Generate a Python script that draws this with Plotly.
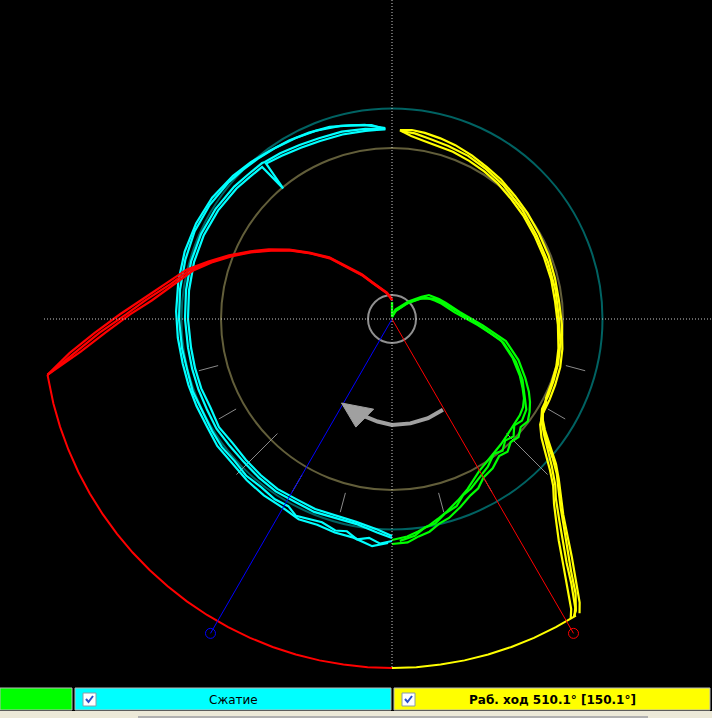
import numpy as np
import plotly.graph_objects as go

W, H = 712, 718
CX, CY = 392, 319          # pixel position of the diagram centre
R_MAX = 349                # clipping radius (outer limit of the diagram)

# ---------------- data (crank angle deg, clockwise from top; radius) ----------------
# Intake (green)
GREEN_A_THETA = [0, 0.5, 20, 43, 53, 57, 67, 73, 84, 94, 101, 108, 114, 118, 121, 124, 127, 130, 133, 136, 139, 142, 146, 150, 153, 156, 160, 164, 167, 170, 173, 176, 180]
GREEN_A_R = [17, 2, 8, 21, 33, 40, 47, 52, 63, 86, 111, 127, 140, 148, 154, 158, 160, 161, 162, 164, 166, 168, 171, 175, 180, 186, 193, 200, 205, 210, 214, 218, 221]
GREEN_B_THETA = [0, 0.5, 20, 43, 53, 57, 67, 73, 84, 94, 101, 108, 114, 118, 121, 124, 127, 130, 133, 136, 139, 142, 146, 150, 153, 156, 160, 164, 167, 170, 173, 176, 180]
GREEN_B_R = [17, 3, 10, 24, 37, 44, 51, 56, 68, 91, 116, 133, 146, 155, 161, 166, 170, 168, 173, 171, 176, 174, 180, 183, 190, 193, 200, 207, 210, 216, 219, 224, 225]
GREEN_C_THETA = [0.5, 25, 45, 55, 65, 75, 85, 95, 102, 109, 115, 120, 124, 128, 131, 134, 137, 140, 143, 147, 151, 155, 158, 161, 165, 168, 171, 174, 178]
GREEN_C_R = [2, 9, 23, 36, 48, 56, 68, 90, 114, 131, 144, 153, 162, 165, 162, 169, 166, 172, 169, 176, 181, 187, 190, 198, 202, 209, 211, 218, 222]

# Compression (cyan)
CYAN_A_THETA = [180, 184, 190, 196, 202, 208, 214, 220, 226, 232, 238, 244, 250, 256, 262, 270, 278, 286, 294, 302, 310, 315, 319.5, 320.2, 321, 326, 332, 338, 345, 352, 358]
CYAN_A_R = [217, 211, 206, 204, 205, 204, 205, 204, 203, 202, 204, 202, 203, 203, 203, 204, 205, 206, 206, 205, 203, 201, 200, 170, 200, 197, 194, 192, 191, 190, 190]
CYAN_D_R = [219, 214, 208, 207, 208, 207, 208, 207, 206, 206, 207, 206, 206, 206, 206, 207, 208, 209, 209, 208, 206, 204, 203, 203, 202, 200, 197, 195, 194, 192, 190]
CYAN_B_THETA = [180, 183, 186, 189, 192, 195, 199, 203, 206, 209, 213, 218, 223, 228, 233, 238, 244, 250, 256, 262, 270, 278, 286, 294, 302, 310, 315, 320, 326, 332, 338, 345, 352, 358]
CYAN_B_R = [222, 225, 220, 223, 217, 219, 215, 217, 219, 214, 215, 213, 214, 212, 213, 212, 211, 212, 211, 212, 213, 214, 215, 216, 215, 213, 211, 209, 207, 205, 203, 200, 196, 191]
CYAN_C_THETA = [181, 185, 190, 195, 200, 205, 210, 216, 222, 228, 234, 240, 246, 252, 258, 265, 272, 280, 288, 296, 304, 312, 318, 324, 330, 336, 342, 348, 354, 357]
CYAN_C_R = [224, 228, 222, 221, 219, 221, 218, 218, 217, 215, 216, 214, 214, 214, 214, 215, 216, 217, 218, 218, 217, 214, 211, 208, 206, 204, 202, 198, 195, 191]

# Power stroke (yellow)
YELLOW_A_THETA = [362.4, 366, 370, 375, 380, 386, 392, 398, 405, 412, 420, 428, 436, 444, 452, 460, 466, 472, 477, 480, 483, 486, 489, 491.5, 493.8, 496.5, 498.8, 500.8, 502.9, 505, 506.5, 507.5]
YELLOW_A_R = [189, 184, 181, 179, 178, 176, 174, 172, 169, 167, 165, 164, 164, 164, 166, 169, 171, 172, 173, 176, 179, 189, 204, 219, 231, 245, 260, 277, 298, 321, 340, 349]
YELLOW_B_THETA = [362.4, 366, 370, 375, 380, 386, 392, 398, 405, 412, 420, 428, 436, 444, 452, 460, 466, 472, 477, 482, 485.5, 488.5, 491, 493.8, 496, 498.8, 501, 503, 505, 507, 508.3, 509.2]
YELLOW_B_R = [189, 190, 189, 187, 185, 182, 179, 177, 174, 172, 170, 169, 168, 168, 170, 173, 175, 176, 177, 178, 182, 191, 203, 219, 232, 246, 261, 277, 298, 322, 341, 349]
YELLOW_C_THETA = [363, 367, 372, 378, 385, 392, 400, 410, 420, 430, 440, 450, 458, 465, 471, 476, 481, 484, 487.5, 490.5, 492.6, 495.5, 497.6, 500.3, 501.9, 504.4, 505.9, 507.6, 508.5]
YELLOW_C_R = [188, 187, 184, 182, 180, 177, 174, 170, 167, 166, 166, 167, 170, 172, 173, 174, 175, 180, 192, 206, 217, 233, 243, 262, 276, 300, 320, 342, 349]
YELLOW_D_THETA = [478, 481.5, 485, 488, 490.8, 493.2, 495.8, 498.2, 500.2, 502.4, 504.6, 506.2, 507.8, 508.6]
YELLOW_D_R = [175, 177, 184, 196, 212, 226, 239, 253, 268, 287, 309, 330, 345, 349]
YELLOW_CLIP_THETA = [508.2, 512, 516, 520, 524, 528, 532, 536, 540]

# Exhaust (red)
RED_CLIP_THETA = [540, 544, 548, 552, 556, 560, 564, 568, 572, 576, 580, 584, 588, 592, 596, 600, 604, 608, 612, 616, 620.8]
RED_THETA = [620.8, 624, 627.3, 631, 634.4, 639, 643.6, 647.4, 651.3, 655.3, 659.5, 664.1, 668.8, 674.5, 680.5, 686, 692.2, 700, 709, 716, 720]
RED_A_R = [349, 313, 287, 262, 241, 221, 205, 189, 172.5, 156, 139, 122, 104.5, 86, 65, 52, 40, 32, 26, 21, 19]
RED_B_R = [349, 324, 298, 272, 251, 229, 211, 192.5, 175, 158, 141.5, 124, 106, 88, 67, 54, 41.5, 33, 27, 22, 19]
RED_C_R = [349, 318, 293, 266, 247, 224, 208, 190.5, 173.5, 157, 140, 123, 105, 87, 66, 53, 40.7, 32.5, 26.5, 21.5, 19]

# reference geometry
CIRCLE_OUTER_R = 210.5
CIRCLE_INNER_R = 171
CIRCLE_CENTER_R = 24
TICK_ANGLES = [105, 120, 135, 150, 165, 195, 210, 225, 240, 255]
TICK_LONG = [135, 225]
VALVE_LINES = [(210, "#0000FF"), (150, "#FF0000")]
VALVE_LEN = 363
ARROW_THETA = [150.7, 160, 170, 180, 188, 196]
ARROW_R = [104, 105.5, 106, 106, 103.5, 101]
ARROW_HEAD_THETA = [211, 191.5, 198.5, 211]
ARROW_HEAD_R = [98, 92, 114, 98]

LEGEND_LABELS = ["", "Сжатие", "Раб. ход 510.1° [150.1°]"]
LEGEND_COLORS = ["#00FF00", "#00FFFF", "#FFFF00"]
LEGEND_X = [(0, 72), (75, 391), (394, 710)]


def xy(theta, r):
    t = np.radians(np.asarray(theta, dtype=float))
    r = np.asarray(r, dtype=float)
    return r * np.sin(t), r * np.cos(t)


fig = go.Figure()


def line(theta, r, color, width=2.2, dash=None):
    x, y = xy(theta, r)
    fig.add_trace(go.Scatter(x=x, y=y, mode="lines",
                             line=dict(color=color, width=width, dash=dash),
                             hoverinfo="skip", showlegend=False))


# ticks
tx, ty = [], []
for a in TICK_ANGLES:
    r0, r1 = (162, 220) if a in TICK_LONG else (180, 200)
    x, y = xy([a, a], [r0, r1])
    tx += list(x) + [None]
    ty += list(y) + [None]
fig.add_trace(go.Scatter(x=tx, y=ty, mode="lines", line=dict(color="#8A8A8A", width=1),
                         hoverinfo="skip", showlegend=False))

# data strands
for th, rr in [(GREEN_A_THETA, GREEN_A_R), (GREEN_B_THETA, GREEN_B_R), (GREEN_C_THETA, GREEN_C_R)]:
    line(th, rr, "#00FF00")
for th, rr in [(CYAN_A_THETA, CYAN_A_R), (CYAN_A_THETA, CYAN_D_R), (CYAN_B_THETA, CYAN_B_R), (CYAN_C_THETA, CYAN_C_R)]:
    line(th, rr, "#00FFFF")
for th, rr in [(YELLOW_A_THETA, YELLOW_A_R), (YELLOW_B_THETA, YELLOW_B_R), (YELLOW_C_THETA, YELLOW_C_R),
               (YELLOW_D_THETA, YELLOW_D_R)]:
    line(th, rr, "#FFFF00")
line(YELLOW_CLIP_THETA, [R_MAX] * len(YELLOW_CLIP_THETA), "#FFFF00", width=2)
line(RED_CLIP_THETA, [R_MAX] * len(RED_CLIP_THETA), "#FF0000", width=2)
for rr in [RED_A_R, RED_B_R, RED_C_R]:
    line(RED_THETA, rr, "#FF0000")

# valve timing lines
for ang, col in VALVE_LINES:
    line([ang, ang], [0, VALVE_LEN], col, width=1)
    x, y = xy([ang], [VALVE_LEN])
    fig.add_trace(go.Scatter(x=x, y=y, mode="markers",
                             marker=dict(symbol="circle-open", size=10, color=col, line=dict(width=1, color=col)),
                             hoverinfo="skip", showlegend=False))

# rotation arrow
line(ARROW_THETA, ARROW_R, "#A0A0A0", width=4)
hx, hy = xy(ARROW_HEAD_THETA, ARROW_HEAD_R)
fig.add_trace(go.Scatter(x=hx, y=hy, mode="lines", fill="toself", fillcolor="#A0A0A0",
                         line=dict(color="#A0A0A0", width=1), hoverinfo="skip", showlegend=False))

# crosshair
for th in [(90, 270), (0, 180)]:
    x, y = xy(list(th), [R_MAX, R_MAX])
    fig.add_trace(go.Scatter(x=x, y=y, mode="lines",
                             line=dict(color="#C8C8C8", width=1, dash="1px,2px"),
                             hoverinfo="skip", showlegend=False))

shapes = []
for rad, col, wdt in [(CIRCLE_OUTER_R, "#006262", 2), (CIRCLE_INNER_R, "#625E3A", 2), (CIRCLE_CENTER_R, "#909090", 2)]:
    shapes.append(dict(type="circle", xref="x", yref="y", x0=-rad, x1=rad, y0=-rad, y1=rad,
                       line=dict(color=col, width=wdt), layer="below"))


def px(x):
    return x / W


def py(y):
    return 1 - y / H


# bottom strip
shapes.append(dict(type="rect", xref="paper", yref="paper", x0=0, x1=1, y0=py(718), y1=py(711),
                   fillcolor="#ECE9D8", line=dict(width=0), layer="above"))
shapes.append(dict(type="rect", xref="paper", yref="paper", x0=px(138), x1=px(648), y0=py(718), y1=py(716),
                   fillcolor="#B0B0B0", line=dict(width=0), layer="above"))
annotations = []
for (x0, x1), col, lab in zip(LEGEND_X, LEGEND_COLORS, LEGEND_LABELS):
    shapes.append(dict(type="rect", xref="paper", yref="paper", x0=px(x0), x1=px(x1), y0=py(710), y1=py(688),
                       fillcolor=col, line=dict(color="#B8B8B8", width=1), layer="above"))
    if lab:
        shapes.append(dict(type="rect", xref="paper", yref="paper", x0=px(x0 + 8), x1=px(x0 + 21),
                           y0=py(706), y1=py(693), fillcolor="#FFFFFF",
                           line=dict(color="#8A9AAA", width=1), layer="above"))
        shapes.append(dict(type="path", xref="paper", yref="paper",
                           path=f"M {px(x0 + 11)},{py(699)} L {px(x0 + 13.5)},{py(702)} L {px(x0 + 18)},{py(696)}",
                           line=dict(color="#2A50C8", width=2), layer="above"))
        bold = lab.startswith("Раб")
        annotations.append(dict(xref="paper", yref="paper", x=px((x0 + x1) / 2), y=py(699.5),
                                text=f"<b>{lab}</b>" if bold else lab, showarrow=False,
                                font=dict(family="DejaVu Sans", size=12, color="#000000"),
                                xanchor="center", yanchor="middle"))

fig.update_layout(
    width=W, height=H, margin=dict(l=0, r=0, t=0, b=0),
    paper_bgcolor="#000000", plot_bgcolor="#000000",
    xaxis=dict(range=[-CX, W - CX], visible=False, fixedrange=True),
    yaxis=dict(range=[-(H - CY), CY], visible=False, fixedrange=True),
    shapes=shapes, annotations=annotations, showlegend=False,
)

fig.write_html("out.html", config={"displayModeBar": False},
               post_script="document.body.style.margin='0px';document.body.style.overflow='hidden';")
